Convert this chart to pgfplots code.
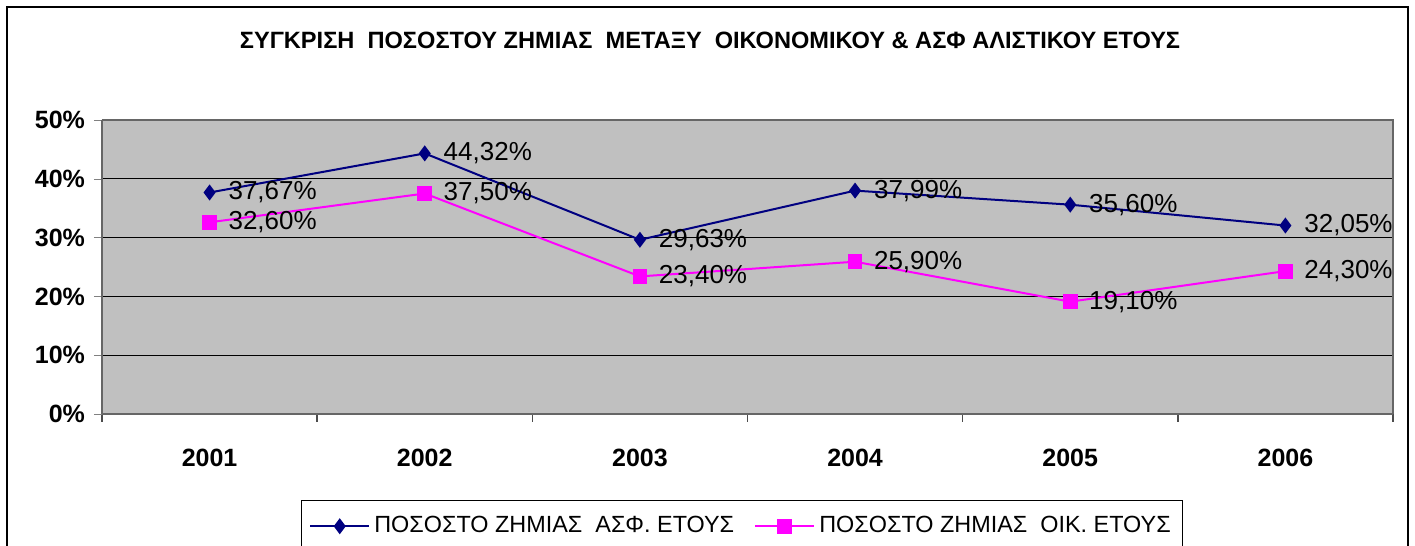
\documentclass[border=0pt]{standalone}
\usepackage{fontspec}
\setmainfont{Liberation Sans}
\usepackage{pgfplots}
\usepackage{pgfplotstable}
\pgfplotsset{compat=1.18}
\definecolor{plotgray}{HTML}{C0C0C0}
\definecolor{navy}{HTML}{000080}
\definecolor{mag}{HTML}{FF00FF}

\pgfplotstableread{
x y lab
1 37.67 37,67\%
2 44.32 44,32\%
3 29.63 29,63\%
4 37.99 37,99\%
5 35.60 35,60\%
6 32.05 32,05\%
}\asf
\pgfplotstableread{
x y lab
1 32.60 32,60\%
2 37.50 37,50\%
3 23.40 23,40\%
4 25.90 25,90\%
5 19.10 19,10\%
6 24.30 24,30\%
}\oik

\begin{document}
\begin{tikzpicture}
% 1 px of the reference = 0.5pt
\useasboundingbox (0,0) rectangle (707.5pt,273pt);
\draw[black, line width=0.8pt] (3.5pt,-2pt) rectangle (704pt,269.5pt);
\node[font=\bfseries\fontsize{11.8}{14}\selectfont] at (355pt,253pt)
  {ΣΥΓΚΡΙΣΗ \ ΠΟΣΟΣΤΟΥ ΖΗΜΙΑΣ \ ΜΕΤΑΞΥ \ ΟΙΚΟΝΟΜΙΚΟΥ \& ΑΣΦ ΑΛΙΣΤΙΚΟΥ ΕΤΟΥΣ};
\begin{axis}[
  at={(51pt,66pt)}, anchor=south west,
  scale only axis, width=645.5pt, height=147pt,
  xmin=0.5, xmax=6.5, ymin=0, ymax=50,
  axis background/.style={fill=plotgray},
  axis line style={draw=gray!80!black, line width=0.8pt},
  axis x line*=bottom, axis y line*=left,
  xtick={1,2,3,4,5,6},
  xticklabels={2001,2002,2003,2004,2005,2006},
  major x tick style={draw=none},
  minor xtick={0.5,1.5,2.5,3.5,4.5,5.5,6.5},
  minor x tick style={draw=black!70, line width=0.8pt},
  ytick={0,10,20,30,40,50},
  yticklabels={0\%,10\%,20\%,30\%,40\%,50\%},
  tick align=outside,
  major tick length=4pt, minor tick length=4pt,
  ymajorgrids, major grid style={black, line width=0.6pt},
  /pgf/number format/assume math mode=true,
  ticklabel style={font=\bfseries\fontsize{12.5}{14}\selectfont},
  xticklabel style={yshift=-10pt},
  yticklabel style={xshift=-1pt},
  nodes near coords, point meta=explicit symbolic,
  every node near coord/.append style={anchor=west, xshift=9pt, inner sep=0pt,
    font=\fontsize{13}{15}\selectfont, text=black},
  legend columns=2,
  legend style={at={(0.4957,-0.2925)}, anchor=north, draw=black, line width=0.6pt,
    font=\fontsize{11.7}{14}\selectfont, inner ysep=6pt, inner xsep=4pt,
    /tikz/every even column/.append style={column sep=8pt}},
  legend image code/.code={
    \draw[#1, mark repeat=2, mark phase=2] plot coordinates {(0cm,0cm) (0.52cm,0cm) (1.04cm,0cm)};},
  clip=false,
]
\addplot[navy, line width=1pt, mark=diamond*, mark size=3.2pt, mark options={fill=navy}]
  table[x=x, y=y, meta=lab] {\asf};
\addlegendentry{ΠΟΣΟΣΤΟ ΖΗΜΙΑΣ \ ΑΣΦ. ΕΤΟΥΣ}
\addplot[mag, line width=1pt, mark=square*, mark size=3.2pt, mark options={fill=mag}]
  table[x=x, y=y, meta=lab] {\oik};
\addlegendentry{ΠΟΣΟΣΤΟ ΖΗΜΙΑΣ \ ΟΙΚ. ΕΤΟΥΣ}
\draw[gray!80!black, line width=0.8pt] (rel axis cs:0,1) -- (rel axis cs:1,1) -- (rel axis cs:1,0);
\end{axis}
\end{tikzpicture}
\end{document}
